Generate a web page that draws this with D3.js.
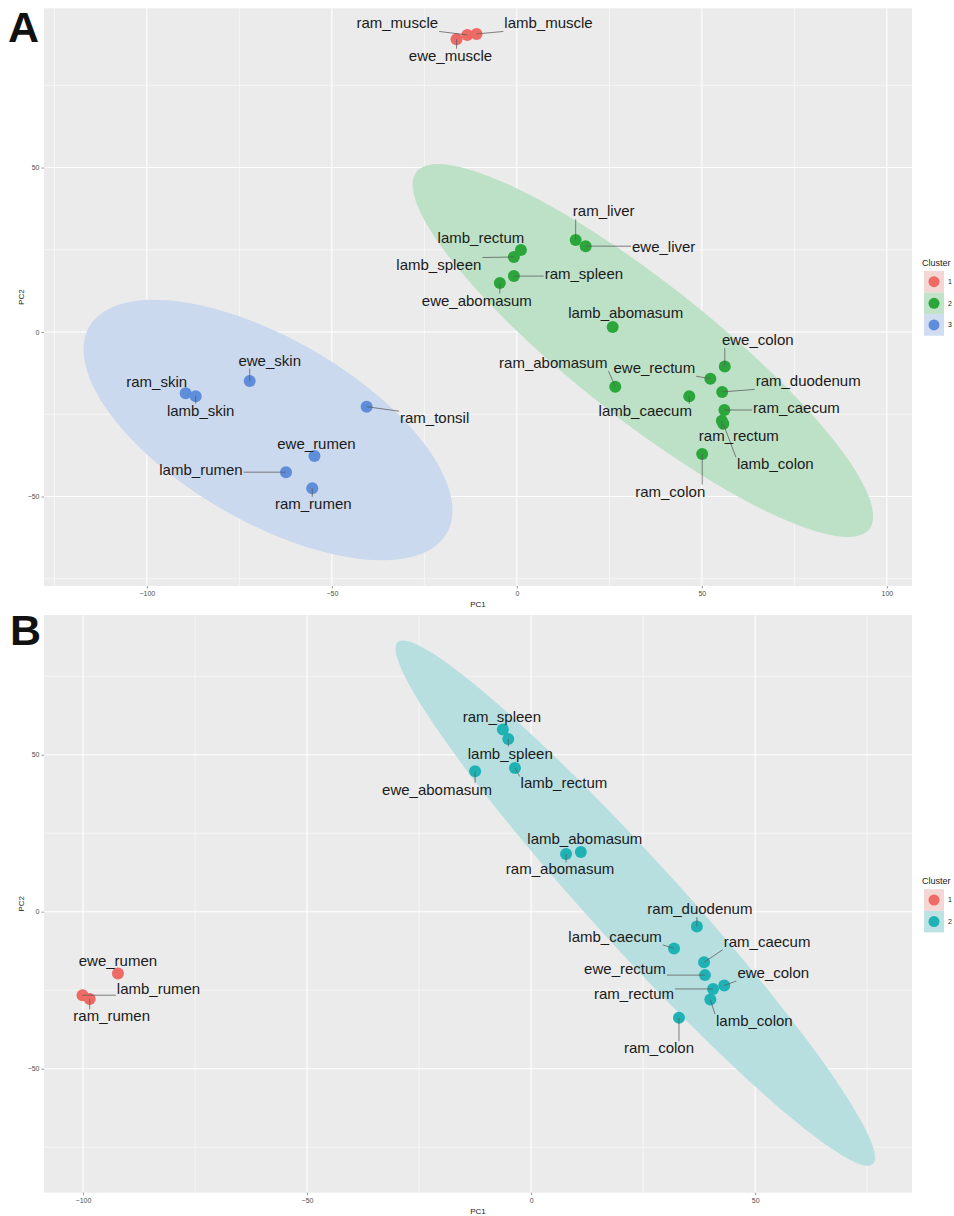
<!DOCTYPE html>
<html>
<head>
<meta charset="utf-8">
<script src="https://cdn.jsdelivr.net/npm/d3@7"></script>
<style>
  html, body { margin: 0; padding: 0; background: #ffffff; }
  svg { display: block; }
</style>
</head>
<body>
<svg id="chart" width="954" height="1216"></svg>
<script>
// ---------------- DATA: panel A (k = 3) ----------------
const samplesA = ["ewe_muscle","ram_muscle","lamb_muscle",
  "ram_liver","ewe_liver","lamb_rectum","lamb_spleen","ram_spleen","ewe_abomasum",
  "lamb_abomasum","ewe_colon","ram_abomasum","ewe_rectum","ram_duodenum","lamb_caecum",
  "ram_caecum","ram_rectum","lamb_colon","ram_colon",
  "ewe_skin","ram_skin","lamb_skin","ram_tonsil","ewe_rumen","lamb_rumen","ram_rumen"];
const pc1A = [-16.3,-13.4,-10.9,
  15.9,18.6,1.1,-0.8,-0.8,-4.6,
  25.9,56.2,26.6,52.3,55.5,46.6,
  56.1,55.4,55.8,50.1,
  -72.2,-89.5,-86.8,-40.6,-54.7,-62.4,-55.3];
const pc2A = [89.0,90.3,90.6,
  28.0,26.1,24.9,22.8,17.0,14.9,
  1.5,-10.5,-16.6,-14.2,-18.2,-19.5,
  -23.7,-27.0,-27.9,-37.1,
  -14.9,-18.6,-19.5,-22.7,-37.7,-42.6,-47.5];
const clusterA = [1,1,1, 2,2,2,2,2,2, 2,2,2,2,2,2, 2,2,2,2, 3,3,3,3,3,3,3];
const clustersA = [1,2,3];
const xTicksA = [-100,-50,0,50,100];
const yTicksA = [-50,0,50];

// ---------------- DATA: panel B (k = 2) ----------------
const samplesB = ["ram_spleen","lamb_spleen","lamb_rectum","ewe_abomasum",
  "lamb_abomasum","ram_abomasum","ram_duodenum","lamb_caecum","ram_caecum",
  "ewe_rectum","ewe_colon","ram_rectum","lamb_colon","ram_colon",
  "ewe_rumen","lamb_rumen","ram_rumen"];
const pc1B = [-6.3,-5.1,-3.6,-12.5, 11.1,7.8,37.0,31.9,38.6, 38.8,43.1,40.6,40.0,33.0, -92.2,-100.1,-98.5];
const pc2B = [58.0,55.0,45.8,44.7, 19.0,18.4,-4.7,-11.7,-16.1, -20.2,-23.5,-24.6,-28.0,-33.8, -19.7,-26.6,-27.8];
const clusterB = [2,2,2,2, 2,2,2,2,2, 2,2,2,2,2, 1,1,1];
const clustersB = [1,2];
const xTicksB = [-100,-50,0,50];
const yTicksB = [-50,0,50];

// ---------------- LAYOUT (label nudges in px, not data) ----------------
const nudgeA = [[-6,17],[-70,-11],[72,-10],
  [28,-28],[78,1],[-40,-12],[-75,8],[70,-2],[-23,18],
  [13,-13.5],[33,-26],[-62,-23],[-56,-10],[86,-10],[-44,15],
  [72,-1],[17,16],[52,41],[-32,38],
  [20,-20],[-29,-11],[5,15],[68,12],[2,-12],[-85,-2],[1,16]];
const nudgeB = [[-1,-12],[2,15],[49,16],[-38,19],
  [4,-13],[-6,16],[3,-17],[-59,-11],[63,-20],
  [-80,-6],[49,-12],[-79,6],[44,22],[-20,31],
  [0,-12],[76,-6],[22,18]];

const svg = d3.select("#chart");
const FONT = "'Liberation Sans', Arial, Helvetica, sans-serif";

// F(2, d) quantile (closed form)
function qf2(p, d) { return (d / 2) * (Math.pow(1 - p, -2 / d) - 1); }

// MASS::cov.trob equivalent for 2D
function covTrob(pts, nu = 5, maxit = 25, tol = 0.01) {
  const n = pts.length, p = 2;
  let loc = [d3.mean(pts, d => d[0]), d3.mean(pts, d => d[1])];
  let w = new Array(n).fill(1);
  let X;
  for (let it = 0; it < maxit; it++) {
    const w0 = w.slice();
    X = pts.map(d => [d[0] - loc[0], d[1] - loc[1]]);
    const sw = d3.sum(w);
    let a = 0, b = 0, c = 0;
    X.forEach((x, i) => { const f = w[i] / sw; a += f * x[0] * x[0]; b += f * x[0] * x[1]; c += f * x[1] * x[1]; });
    const det = a * c - b * b;
    const Q = X.map(x => (c * x[0] * x[0] - 2 * b * x[0] * x[1] + a * x[1] * x[1]) / det);
    w = Q.map(q => (nu + p) / (nu + q));
    const sw2 = d3.sum(w);
    loc = [d3.sum(pts, (d, i) => w[i] * d[0]) / sw2, d3.sum(pts, (d, i) => w[i] * d[1]) / sw2];
    if (w.every((v, i) => Math.abs(v - w0[i]) < tol)) break;
  }
  let a = 0, b = 0, c = 0;
  X.forEach((x, i) => { a += w[i] * x[0] * x[0]; b += w[i] * x[0] * x[1]; c += w[i] * x[1] * x[1]; });
  return { cov: [a / n, b / n, c / n], center: loc };
}

function ellipsePoints(pts, level = 0.95, seg = 120) {
  const { cov, center } = covTrob(pts);
  const [a, b, c] = cov;
  const r11 = Math.sqrt(a), r12 = b / r11, r22 = Math.sqrt(Math.max(c - r12 * r12, 0));
  const radius = Math.sqrt(2 * qf2(level, pts.length - 1));
  const out = [];
  for (let i = 0; i <= seg; i++) {
    const t = i * 2 * Math.PI / seg;
    const u0 = Math.cos(t), u1 = Math.sin(t);
    out.push([center[0] + radius * u0 * r11, center[1] + radius * (u0 * r12 + u1 * r22)]);
  }
  return out;
}

function panel(opt) {
  const g = svg.append("g");
  const x = d3.scaleLinear().domain(opt.xDomain).range([opt.left, opt.right]);
  const y = d3.scaleLinear().domain(opt.yDomain).range([opt.bottom, opt.top]);
  const clipId = "clip" + opt.id;
  svg.append("clipPath").attr("id", clipId).append("rect")
    .attr("x", opt.left).attr("y", opt.top).attr("width", opt.right - opt.left).attr("height", opt.bottom - opt.top);

  g.append("rect").attr("x", opt.left).attr("y", opt.top)
    .attr("width", opt.right - opt.left).attr("height", opt.bottom - opt.top).attr("fill", "#EBEBEB");

  // minor gridlines (midpoints)
  const step = opt.xTicks[1] - opt.xTicks[0];
  const minorX = d3.range(Math.ceil((opt.xDomain[0] - step / 2) / step) * step + step / 2, opt.xDomain[1], step).filter(v => v > opt.xDomain[0] && v < opt.xDomain[1]);
  const ystep = opt.yTicks[1] - opt.yTicks[0];
  const minorY = d3.range(Math.ceil((opt.yDomain[0] - ystep / 2) / ystep) * ystep + ystep / 2, opt.yDomain[1], ystep).filter(v => v > opt.yDomain[0] && v < opt.yDomain[1]);
  const grid = g.append("g").attr("clip-path", `url(#${clipId})`);
  grid.selectAll(".mx").data(minorX).join("line")
    .attr("x1", d => x(d)).attr("x2", d => x(d)).attr("y1", opt.top).attr("y2", opt.bottom)
    .attr("stroke", "#fff").attr("stroke-width", 0.55);
  grid.selectAll(".my").data(minorY).join("line")
    .attr("y1", d => y(d)).attr("y2", d => y(d)).attr("x1", opt.left).attr("x2", opt.right)
    .attr("stroke", "#fff").attr("stroke-width", 0.55);
  grid.selectAll(".Mx").data(opt.xTicks).join("line")
    .attr("x1", d => x(d)).attr("x2", d => x(d)).attr("y1", opt.top).attr("y2", opt.bottom)
    .attr("stroke", "#fff").attr("stroke-width", 1.1);
  grid.selectAll(".My").data(opt.yTicks).join("line")
    .attr("y1", d => y(d)).attr("y2", d => y(d)).attr("x1", opt.left).attr("x2", opt.right)
    .attr("stroke", "#fff").attr("stroke-width", 1.1);

  // axes
  const xAxis = g.append("g").attr("transform", `translate(0,${opt.bottom})`)
    .call(d3.axisBottom(x).tickValues(opt.xTicks).tickSize(2.5).tickPadding(3).tickFormat(d3.format("d")));
  const yAxis = g.append("g").attr("transform", `translate(${opt.left},0)`)
    .call(d3.axisLeft(y).tickValues(opt.yTicks).tickSize(2.5).tickPadding(2).tickFormat(d3.format("d")));
  [xAxis, yAxis].forEach(a => {
    a.select(".domain").remove();
    a.selectAll(".tick line").attr("stroke", "#333").attr("stroke-width", 0.5);
    a.selectAll(".tick text").attr("fill", "#4D4D4D").attr("font-size", 7).attr("font-family", FONT);
  });
  g.append("text").attr("x", (opt.left + opt.right) / 2).attr("y", opt.bottom + 21)
    .attr("text-anchor", "middle").attr("font-family", FONT).attr("font-size", 8).attr("fill", "#1a1a1a").text("PC1");
  g.append("text").attr("transform", `translate(${opt.left - 20},${(opt.top + opt.bottom) / 2}) rotate(-90)`)
    .attr("text-anchor", "middle").attr("font-family", FONT).attr("font-size", 8).attr("fill", "#1a1a1a").text("PC2");

  // data rows
  const rows = opt.samples.map((s, i) => ({ name: s, x: opt.pc1[i], y: opt.pc2[i], k: opt.cluster[i], nudge: opt.nudge[i] }));

  // ellipses
  const eg = g.append("g").attr("clip-path", `url(#${clipId})`);
  opt.clusters.forEach((k, ci) => {
    const pts = rows.filter(r => r.k === k).map(r => [r.x, r.y]);
    if (pts.length < 4) return;
    const ell = ellipsePoints(pts);
    eg.append("path").attr("d", d3.line().x(d => x(d[0])).y(d => y(d[1]))(ell) + "Z")
      .attr("fill", opt.fills[ci]).attr("stroke", "none");
  });

  // points
  g.append("g").selectAll("circle").data(rows).join("circle")
    .attr("cx", d => x(d.x)).attr("cy", d => y(d.y)).attr("r", 6)
    .attr("fill", d => opt.colors[opt.clusters.indexOf(d.k)]);

  // labels + segments
  const segG = g.append("g");
  const labG = g.append("g");
  rows.forEach(r => {
    const px = x(r.x), py = y(r.y);
    const cx = px + r.nudge[0], cy = py + r.nudge[1];
    const t = labG.append("text").attr("x", cx).attr("y", cy + 4.5).attr("text-anchor", "middle")
      .attr("font-family", FONT).attr("font-size", 15).attr("fill", "#1a1a1a").text(r.name);
    const w = t.node().getComputedTextLength();
    const bx0 = cx - w / 2 - 1, bx1 = cx + w / 2 + 1, by0 = cy - 7.5, by1 = cy + 7.5;
    const qx = Math.max(bx0, Math.min(px, bx1)), qy = Math.max(by0, Math.min(py, by1));
    const dist = Math.hypot(px - qx, py - qy);
    if (dist > 7) {
      segG.append("line").attr("x1", qx).attr("y1", qy).attr("x2", px).attr("y2", py)
        .attr("stroke", "#5a5a5a").attr("stroke-width", 0.75);
    }
  });

  // legend
  const lg = g.append("g");
  lg.append("text").attr("x", 922).attr("y", opt.legendY).attr("dy", "0.35em")
    .attr("font-family", FONT).attr("font-size", 9).attr("fill", "#1a1a1a").text("Cluster");
  opt.clusters.forEach((k, i) => {
    const cyk = opt.legendY + 19 + i * 21.6;
    lg.append("rect").attr("x", 924).attr("y", cyk - 10.8).attr("width", 20).attr("height", 21.6)
      .attr("fill", opt.keyFills[i]);
    lg.append("circle").attr("cx", 934).attr("cy", cyk).attr("r", 5.5).attr("fill", opt.colors[i]);
    lg.append("text").attr("x", 948).attr("y", cyk).attr("dy", "0.35em")
      .attr("font-family", FONT).attr("font-size", 7).attr("fill", "#1a1a1a").text(k);
  });

  // panel letter
  svg.append("text").attr("x", opt.letterX).attr("y", opt.letterY)
    .attr("font-family", FONT).attr("font-weight", "bold").attr("font-size", 43).attr("fill", "#111").text(opt.letter);
}

panel({
  id: "A", letter: "A", letterX: 8, letterY: 42,
  left: 44, right: 912, top: 8.3, bottom: 586,
  xDomain: [-127.8, 106.8], yDomain: [-77.2, 98.4],
  xTicks: xTicksA, yTicks: yTicksA,
  samples: samplesA, pc1: pc1A, pc2: pc2A, cluster: clusterA, nudge: nudgeA,
  clusters: clustersA,
  colors: ["#EE6A64", "#2BA63B", "#5E8DD9"],
  fills: ["#F3CFCC", "#BDE1C7", "#CBD9EE"],
  keyFills: ["#F4D6D4", "#C2E3CA", "#D0DCF0"],
  legendY: 262.7
});

panel({
  id: "B", letter: "B", letterX: 10, letterY: 645,
  left: 44, right: 912, top: 615, bottom: 1192.7,
  xDomain: [-108.7, 85.0], yDomain: [-89.5, 94.5],
  xTicks: xTicksB, yTicks: yTicksB,
  samples: samplesB, pc1: pc1B, pc2: pc2B, cluster: clusterB, nudge: nudgeB,
  clusters: clustersB,
  colors: ["#EE6A64", "#1FB2B5"],
  fills: ["#F3CFCC", "#B8DFE0"],
  keyFills: ["#F4D6D4", "#BCE2E3"],
  legendY: 881
});
</script>
</body>
</html>
